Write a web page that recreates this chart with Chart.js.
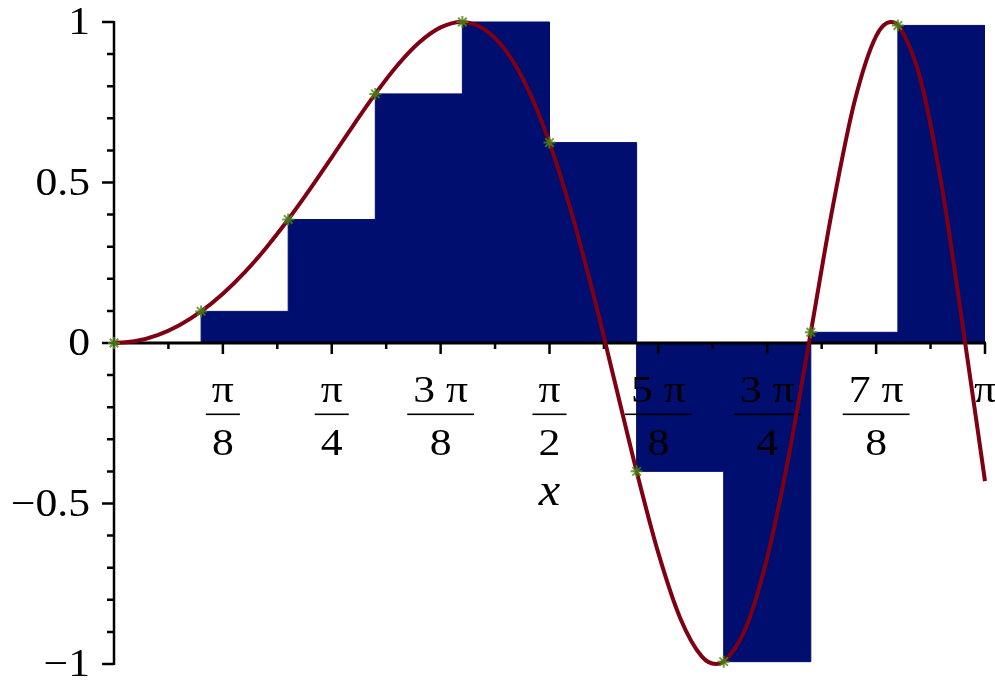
<!DOCTYPE html>
<html>
<head>
<meta charset="utf-8">
<script src="https://cdn.jsdelivr.net/npm/chart.js@4"></script>
<style>
  html, body { margin: 0; padding: 0; background: #fff; }
  #wrap { width: 995px; height: 685px; }
</style>
</head>
<body>
<div id="wrap"><canvas id="riemann-chart"></canvas></div>
<script>
// f(x) = sin(x^2) on [0, pi]
const curveX = [0, 0.0785, 0.1571, 0.2356, 0.3142, 0.3927, 0.4712, 0.5498, 0.6283, 0.7069,
  0.7854, 0.8639, 0.9425, 1.0210, 1.0996, 1.1781, 1.2533, 1.3352, 1.4137, 1.4923,
  1.5708, 1.6493, 1.7279, 1.8064, 1.8850, 1.9635, 2.0420, 2.1206, 2.1708, 2.1991,
  2.2777, 2.3562, 2.4347, 2.5133, 2.5918, 2.6704, 2.7489, 2.8025, 2.8274, 2.9060,
  2.9845, 3.0631, 3.1416];
const curveY = [0, 0.0062, 0.0247, 0.0555, 0.0985, 0.1536, 0.2202, 0.2978, 0.3846, 0.4791,
  0.5784, 0.6790, 0.7760, 0.8637, 0.9353, 0.9833, 1.0000, 0.9776, 0.9099, 0.7924,
  0.6243, 0.4089, 0.1554, -0.1212, -0.3999, -0.6547, -0.8564, -0.9769, -1.0000, -0.9924,
  -0.8892, -0.6680, -0.3478, 0.0334, 0.4208, 0.7497, 0.9561, 1.0000, 0.9902, 0.8306,
  0.4947, 0.0425, -0.4303];

// left Riemann sum, 10 subintervals: left endpoints and heights
const nodeX = [0, 0.3142, 0.6283, 0.9425, 1.2566, 1.5708, 1.8850, 2.1991, 2.5133, 2.8274];
const nodeY = [0, 0.0985, 0.3846, 0.7760, 1.0000, 0.6243, -0.3999, -0.9927, 0.0333, 0.9893];
const xEnd = 3.1416;

// x ticks at multiples of pi/8 (fraction labels), minor ticks in between
const xTickValues = [0.3927, 0.7854, 1.1781, 1.5708, 1.9635, 2.3562, 2.7489, 3.1416];
const xTickNum = ['π', 'π', '3 π', 'π', '5 π', '3 π', '7 π', 'π'];
const xTickDen = ['8', '4', '8', '2', '8', '4', '8', ''];
const xMinorValues = [0.1963, 0.5890, 0.9817, 1.3744, 1.7671, 2.1598, 2.5525, 2.9452];

const yTickValues = [-1, -0.5, 0, 0.5, 1];
const yTickLabels = ['−1', '−0.5', '0', '0.5', '1'];
const yMinorValues = [-0.9, -0.8, -0.7, -0.6, -0.4, -0.3, -0.2, -0.1,
  0.1, 0.2, 0.3, 0.4, 0.6, 0.7, 0.8, 0.9];

const NAVY = '#000e70';
const CURVE = '#7e0012';
const SERIF = '"Liberation Serif", "DejaVu Serif", serif';

// text stretched a little horizontally (the labels use a wide serif face)
function wideText(ctx, text, x, y, sx) {
  ctx.save();
  ctx.translate(x, y);
  ctx.scale(sx, 1);
  ctx.fillText(text, 0, 0);
  ctx.restore();
}

// axes through the origin, drawn right after the rectangles so the curve sits on top
const originAxes = {
  id: 'originAxes',
  afterDatasetDraw(chart, args) {
    if (args.index !== 2) return;
    const { ctx, scales: { x, y } } = chart;
    const x0 = x.getPixelForValue(0);
    const y0 = y.getPixelForValue(0);
    ctx.save();
    ctx.strokeStyle = '#000';
    ctx.fillStyle = '#000';
    ctx.lineCap = 'butt';

    ctx.lineWidth = 3;
    ctx.beginPath();
    ctx.moveTo(x0, y0);
    ctx.lineTo(x.getPixelForValue(xEnd) + 1, y0);
    ctx.stroke();

    ctx.lineWidth = 2.5;
    ctx.beginPath();
    ctx.moveTo(x0, y.getPixelForValue(1) - 1);
    ctx.lineTo(x0, y.getPixelForValue(-1) + 1);
    ctx.stroke();

    // tick marks
    ctx.beginPath();
    xTickValues.forEach(v => {
      const px = x.getPixelForValue(v);
      ctx.moveTo(px, y0);
      ctx.lineTo(px, y0 + 11);
    });
    xMinorValues.forEach(v => {
      const px = x.getPixelForValue(v);
      ctx.moveTo(px, y0);
      ctx.lineTo(px, y0 + 6);
    });
    yTickValues.forEach(v => {
      const py = y.getPixelForValue(v);
      ctx.moveTo(x0, py);
      ctx.lineTo(x0 - 12, py);
    });
    yMinorValues.forEach(v => {
      const py = y.getPixelForValue(v);
      ctx.moveTo(x0, py);
      ctx.lineTo(x0 - 7, py);
    });
    ctx.stroke();

    // y labels
    ctx.font = '39px ' + SERIF;
    ctx.textAlign = 'right';
    ctx.textBaseline = 'middle';
    yTickValues.forEach((v, i) => {
      wideText(ctx, yTickLabels[i], x0 - 24, y.getPixelForValue(v) + 2, 1.12);
    });

    // x labels as stacked fractions
    const sx = 1.15;
    ctx.font = '38px ' + SERIF;
    ctx.textAlign = 'center';
    ctx.textBaseline = 'alphabetic';
    xTickValues.forEach((v, i) => {
      const px = x.getPixelForValue(v);
      const num = xTickNum[i];
      const den = xTickDen[i];
      wideText(ctx, num, px, y0 + 59, sx);
      if (den) {
        const w = Math.max(ctx.measureText(num).width, ctx.measureText(den).width) * sx + 12;
        ctx.fillRect(px - w / 2, y0 + 70.5, w, 1.6);
        wideText(ctx, den, px, y0 + 112, sx);
      }
    });

    // axis title
    ctx.font = 'italic 46px ' + SERIF;
    wideText(ctx, 'x', (x.left + x.right) / 2, y0 + 162, 1.05);
    ctx.restore();
  }
};

const stepData = nodeX.map((v, i) => ({ x: v, y: nodeY[i] }));
stepData.push({ x: xEnd, y: nodeY[nodeY.length - 1] });

new Chart(document.getElementById('riemann-chart'), {
  type: 'line',
  data: {
    datasets: [
      {
        label: 'sample points',
        data: nodeX.map((v, i) => ({ x: v, y: nodeY[i] })),
        showLine: false,
        pointStyle: 'star',
        pointRadius: 6,
        borderWidth: 2,
        borderColor: 'rgba(74, 135, 24, 0.8)',
        backgroundColor: 'rgba(74, 135, 24, 0.8)',
        clip: false
      },
      {
        label: 'sin(x^2)',
        data: curveX.map((v, i) => ({ x: v, y: curveY[i] })),
        borderColor: CURVE,
        borderWidth: 4,
        pointRadius: 0,
        cubicInterpolationMode: 'monotone',
        fill: false,
        clip: false
      },
      {
        label: 'left sum',
        data: stepData,
        stepped: true,
        fill: 'origin',
        backgroundColor: NAVY,
        borderColor: NAVY,
        borderWidth: 1,
        pointRadius: 0,
        clip: false
      }
    ]
  },
  options: {
    responsive: true,
    maintainAspectRatio: false,
    animation: false,
    layout: { padding: { left: 114, right: 10, top: 22, bottom: 21 } },
    scales: {
      x: { type: 'linear', min: 0, max: xEnd, display: false },
      y: { type: 'linear', min: -1, max: 1, display: false }
    },
    plugins: {
      legend: { display: false },
      tooltip: { enabled: false }
    }
  },
  plugins: [originAxes]
});
</script>
</body>
</html>
